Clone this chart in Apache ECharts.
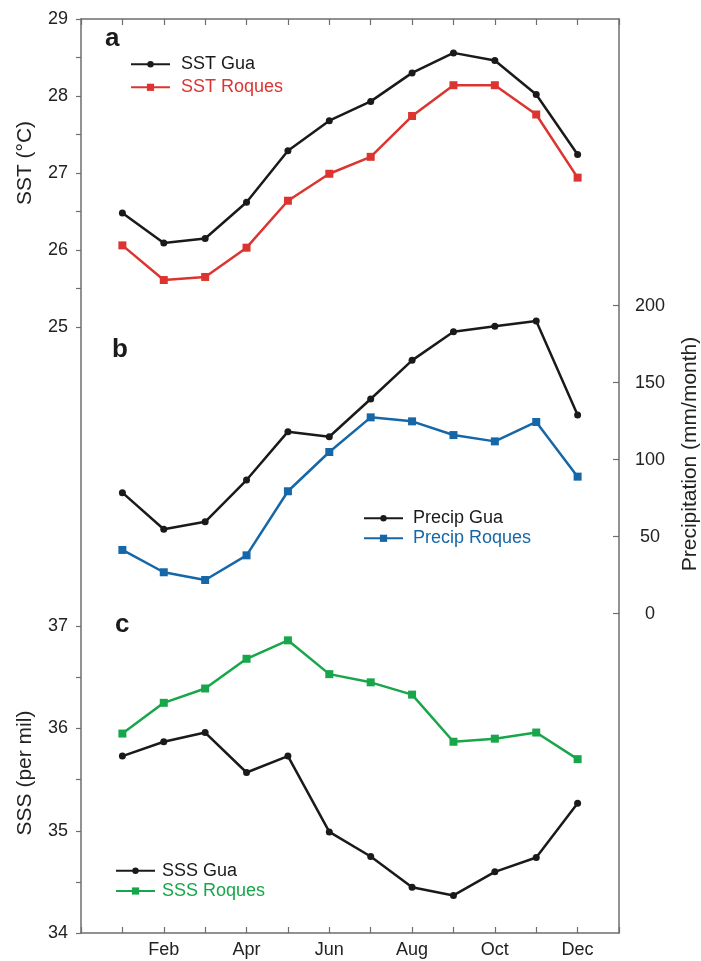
<!DOCTYPE html>
<html>
<head>
<meta charset="utf-8">
<script src="https://cdn.jsdelivr.net/npm/echarts@6/dist/echarts.min.js"></script>
<style>html,body{margin:0;padding:0;background:#fff}#c{width:701px;height:961px}</style>
</head>
<body>
<div id="c"></div>
<script>
var months = [1,2,3,4,5,6,7,8,9,10,11,12];
var xTickLabels = ['', '', 'Feb', '', 'Apr', '', 'Jun', '', 'Aug', '', 'Oct', '', 'Dec', ''];
var sstGua = [26.48,26.09,26.15,26.62,27.29,27.68,27.93,28.30,28.56,28.46,28.02,27.24];
var sstRoques = [26.06,25.61,25.65,26.03,26.64,26.99,27.21,27.74,28.14,28.14,27.76,26.94];
var precipGua = [78.6,54.8,59.7,86.8,118.2,114.9,139.4,164.5,183.1,186.6,190.1,129.0];
var precipRoques = [41.4,26.9,21.9,37.9,79.5,105.0,127.5,124.9,116.0,111.9,124.5,89.0];
var sssGua = [35.73,35.87,35.96,35.57,35.73,34.99,34.75,34.45,34.37,34.60,34.74,35.27];
var sssRoques = [35.95,36.25,36.39,36.68,36.86,36.53,36.45,36.33,35.87,35.90,35.96,35.70];

function pairs(vals){ return months.map(function(m,i){ return [m, vals[i]]; }); }

var FONT = '"Liberation Sans", Arial, sans-serif';
var AX = '#6e6e6e';
var TXT = '#222';
var BLACK = '#1a1a1a', RED = '#dc3430', BLUE = '#1567a8', GREEN = '#17a64a';

var chart = echarts.init(document.getElementById('c'), null, {renderer:'canvas'});

var L = 81, W = 538;
var hiddenX = function(gi){ return {type:'value', gridIndex:gi, min:0, max:13, show:false, axisLine:{onZero:false}}; };

function mkLegend(name, color, left, top, itemH, pad){
  return {
    data:[{name:name, textStyle:{color:color}}],
    left:left, top:top, orient:'vertical', padding:0,
    itemWidth:39, itemHeight:itemH, selectedMode:false,
    textStyle:{fontFamily:FONT, fontSize:18, lineHeight:20, color:color, padding:[0,0,0,pad]}
  };
}

var option = {
  animation:false,
  backgroundColor:'#fff',
  grid:[
    {left:L, top:19, width:W, height:914},
    {left:L, top:19, width:W, height:308},
    {left:L, top:305.7, width:W, height:308},
    {left:L, top:626, width:W, height:307.3}
  ],
  xAxis:[
    {type:'value', gridIndex:0, min:0, max:13, interval:1, position:'bottom',
     axisLine:{show:true, onZero:false, lineStyle:{color:AX, width:1.5}},
     axisTick:{show:true, inside:true, length:6, lineStyle:{color:AX, width:1.2}},
     axisLabel:{show:true, margin:8, color:TXT, fontFamily:FONT, fontSize:18,
       formatter:function(v){ return xTickLabels[Math.round(v)] || ''; }},
     splitLine:{show:false}},
    {type:'value', gridIndex:0, min:0, max:13, interval:1, position:'top',
     axisLine:{show:true, onZero:false, lineStyle:{color:AX, width:1.5}},
     axisTick:{show:true, inside:true, length:6, lineStyle:{color:AX, width:1.2}},
     axisLabel:{show:false}, splitLine:{show:false}},
    hiddenX(1), hiddenX(2), hiddenX(3)
  ],
  yAxis:[
    {type:'value', gridIndex:0, min:0, max:1, position:'left',
     axisLine:{show:true, onZero:false, lineStyle:{color:AX, width:1.5}},
     axisTick:{show:false}, axisLabel:{show:false}, splitLine:{show:false}},
    {type:'value', gridIndex:0, min:0, max:1, position:'right',
     axisLine:{show:true, onZero:false, lineStyle:{color:AX, width:1.5}},
     axisTick:{show:false}, axisLabel:{show:false}, splitLine:{show:false}},
    {type:'value', gridIndex:1, min:25, max:29, interval:0.5, position:'left',
     axisLine:{show:false, onZero:false},
     axisTick:{show:true, inside:false, length:5, lineStyle:{color:AX, width:1.2}},
     axisLabel:{margin:13, color:TXT, fontFamily:FONT, fontSize:18,
       formatter:function(v){ return (Math.abs(v - Math.round(v)) < 1e-6) ? String(Math.round(v)) : ''; }},
     splitLine:{show:false}},
    {type:'value', gridIndex:2, min:0, max:200, interval:50, position:'right',
     axisLine:{show:false, onZero:false},
     axisTick:{show:true, inside:true, length:6, lineStyle:{color:AX, width:1.2}},
     axisLabel:{margin:31, align:'center', color:TXT, fontFamily:FONT, fontSize:18},
     splitLine:{show:false}},
    {type:'value', gridIndex:3, min:34, max:37, interval:0.5, position:'left',
     axisLine:{show:false, onZero:false},
     axisTick:{show:true, inside:false, length:5, lineStyle:{color:AX, width:1.2}},
     axisLabel:{margin:13, color:TXT, fontFamily:FONT, fontSize:18,
       formatter:function(v){ return (Math.abs(v - Math.round(v)) < 1e-6) ? String(Math.round(v)) : ''; }},
     splitLine:{show:false}}
  ],
  legend:[
    mkLegend('SST Gua', BLACK, 130, 54.3, 8, 6),
    mkLegend('SST Roques', RED, 130, 77.3, 9, 6),
    mkLegend('Precip Gua', BLACK, 363, 508.3, 8, 5),
    mkLegend('Precip Roques', BLUE, 363, 528.3, 9, 5),
    mkLegend('SSS Gua', BLACK, 115, 860.7, 8, 2),
    mkLegend('SSS Roques', GREEN, 115, 881, 9, 2)
  ],
  series:[
    {name:'SST Gua', type:'line', xAxisIndex:2, yAxisIndex:2, data:pairs(sstGua),
     symbol:'circle', symbolSize:7, lineStyle:{color:BLACK, width:2.5}, itemStyle:{color:BLACK}},
    {name:'SST Roques', type:'line', xAxisIndex:2, yAxisIndex:2, data:pairs(sstRoques),
     symbol:'rect', symbolSize:8, lineStyle:{color:RED, width:2.5}, itemStyle:{color:RED}},
    {name:'Precip Gua', type:'line', xAxisIndex:3, yAxisIndex:3, data:pairs(precipGua),
     symbol:'circle', symbolSize:7, lineStyle:{color:BLACK, width:2.5}, itemStyle:{color:BLACK}},
    {name:'Precip Roques', type:'line', xAxisIndex:3, yAxisIndex:3, data:pairs(precipRoques),
     symbol:'rect', symbolSize:8, lineStyle:{color:BLUE, width:2.5}, itemStyle:{color:BLUE}},
    {name:'SSS Gua', type:'line', xAxisIndex:4, yAxisIndex:4, data:pairs(sssGua),
     symbol:'circle', symbolSize:7, lineStyle:{color:BLACK, width:2.5}, itemStyle:{color:BLACK}},
    {name:'SSS Roques', type:'line', xAxisIndex:4, yAxisIndex:4, data:pairs(sssRoques),
     symbol:'rect', symbolSize:8, lineStyle:{color:GREEN, width:2.5}, itemStyle:{color:GREEN}}
  ],
  graphic:[
    {type:'text', left:105, top:26, style:{text:'a', fontFamily:FONT, fontSize:26, fontWeight:'bold', fill:'#1a1a1a'}},
    {type:'text', left:112, top:337, style:{text:'b', fontFamily:FONT, fontSize:26, fontWeight:'bold', fill:'#1a1a1a'}},
    {type:'text', left:115, top:612, style:{text:'c', fontFamily:FONT, fontSize:26, fontWeight:'bold', fill:'#1a1a1a'}},
    {type:'text', x:25, y:163, rotation:Math.PI/2, style:{text:'SST (°C)', fontFamily:FONT, fontSize:21, fill:TXT, align:'center', verticalAlign:'middle'}},
    {type:'text', x:25, y:773, rotation:Math.PI/2, style:{text:'SSS (per mil)', fontFamily:FONT, fontSize:21, fill:TXT, align:'center', verticalAlign:'middle'}},
    {type:'text', x:690, y:454, rotation:Math.PI/2, style:{text:'Precipitation (mm/month)', fontFamily:FONT, fontSize:21, fill:TXT, align:'center', verticalAlign:'middle'}}
  ]
};
chart.setOption(option);
</script>
</body>
</html>
